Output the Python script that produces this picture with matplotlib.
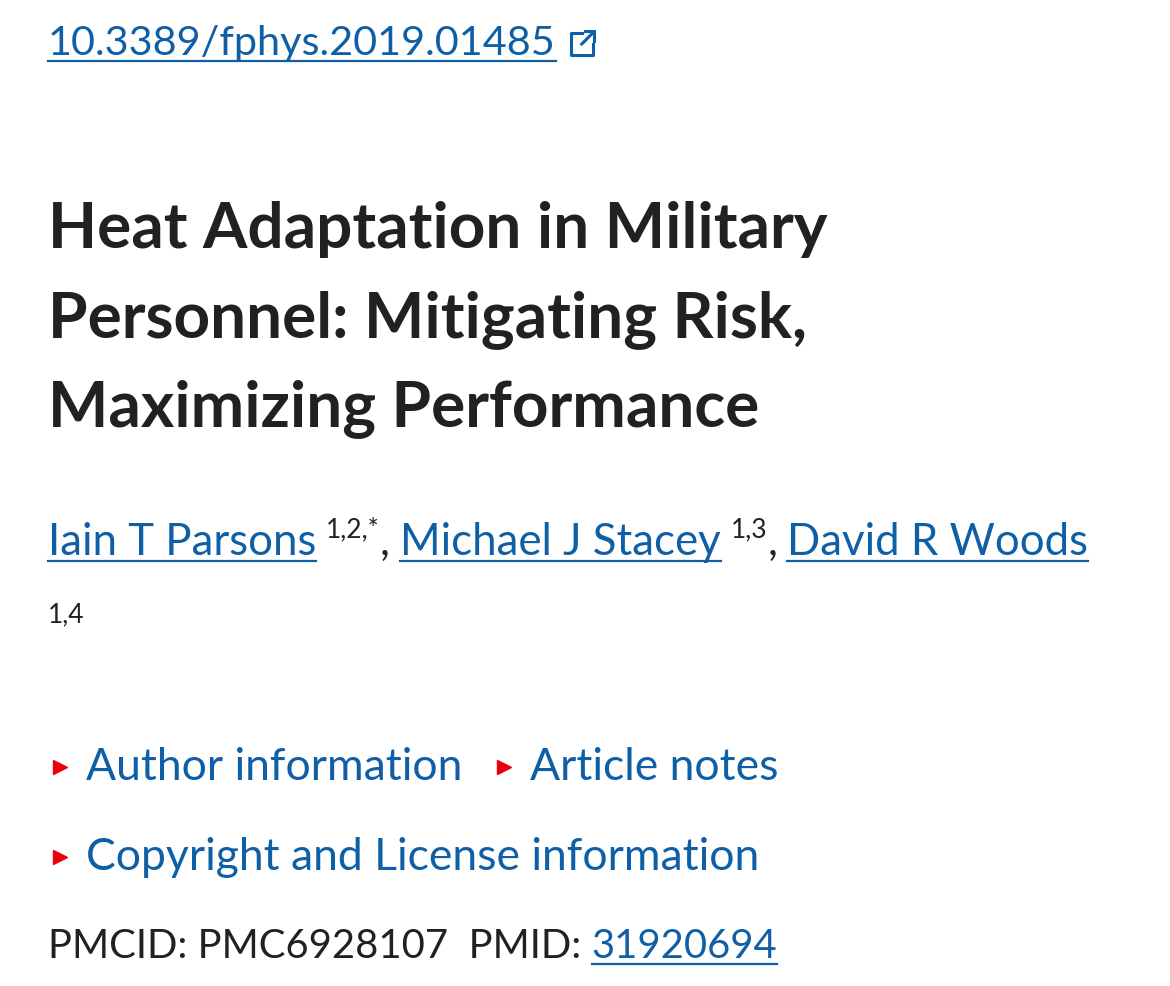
import matplotlib.pyplot as plt

W, H = 1170, 986
LINK = "#0f5fa6"
TEXT = "#212121"
RED = "#e8000b"
FONT = "Lato"

doi = "10.3389/fphys.2019.01485"
title_lines = ["Heat Adaptation in Military", "Personnel: Mitigating Risk,", "Maximizing Performance"]
authors = [("Iain T Parsons", "1,2,*"), ("Michael J Stacey", "1,3"), ("David R Woods", "1,4")]
sections = [["Author information", "Article notes"], ["Copyright and License information"]]
pmcid = "PMC6928107"
pmid = "31920694"

fig = plt.figure(figsize=(W / 100, H / 100), dpi=100)
fig.patch.set_facecolor("white")
renderer = fig.canvas.get_renderer()


def put(x, y, s, size, color=TEXT, weight="normal", underline=False):
    t = fig.text(x / W, 1 - y / H, s, fontsize=size, color=color, family=FONT,
                 weight=weight, va="baseline", ha="left")
    bb = t.get_window_extent(renderer)
    x1 = bb.x1
    if underline:
        fig.add_artist(plt.Line2D([x / W, x1 / W], [1 - (y + 6) / H] * 2,
                                  color=color, lw=1.6))
    return x1


# DOI link with external-link icon
x1 = put(48, 55, doi, 29.8, LINK, underline=True)
ix, iy = x1 + 12, 30
ax_icon = fig.add_axes([ix / W, 1 - (iy + 28) / H, 28 / W, 28 / H])
ax_icon.set_xlim(0, 10); ax_icon.set_ylim(0, 10); ax_icon.axis("off")
ax_icon.plot([5, 1, 1, 9, 9], [9, 9, 1, 1, 5], color=LINK, lw=2.2)
ax_icon.plot([5, 9.5], [5, 9.5], color=LINK, lw=2.2)
ax_icon.plot([6, 9.5, 9.5], [9.5, 9.5, 6], color=LINK, lw=2.2)

# title
for i, line in enumerate(title_lines):
    put(48, 248 + i * 89, line, 46, TEXT, weight="bold")

# authors
x = 48
for i, (name, sup) in enumerate(authors):
    if i < 2:
        x = put(x, 555, name, 31.5, LINK, underline=True)
        x = put(x + 10, 537, sup, 19)
        x = put(x, 555, ",", 31.5) + 10
    else:
        put(x, 555, name, 31.5, LINK, underline=True)
        put(48, 622, sup, 19)

# expandable sections
for row, items in enumerate(sections):
    y = 780 + row * 90
    x = 50
    for s in items:
        fig.add_artist(plt.Line2D([(x + 10) / W], [1 - (y - 13) / H], marker=">",
                                  markersize=10, color=RED, linestyle="none"))
        x = put(x + 36, y, s, 32, LINK) + 32

# identifiers
x = put(48, 958, "PMCID: " + pmcid + "  PMID: ", 28.8)
put(x, 958, pmid, 28.8, LINK, underline=True)

fig.savefig("out.png", dpi=100, facecolor="white")
